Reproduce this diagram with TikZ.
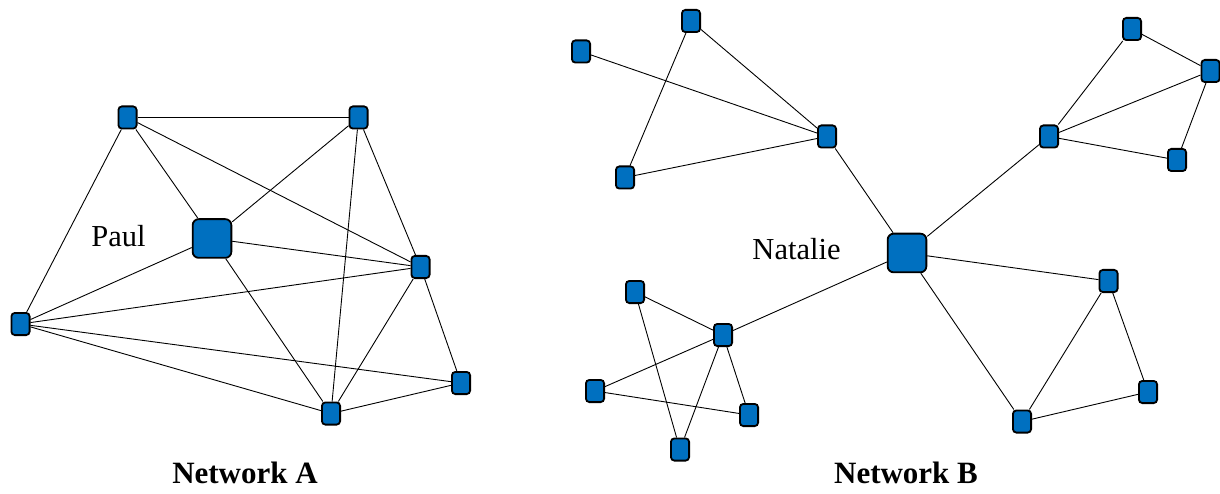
\documentclass[tikz,border=0pt]{standalone}
\usepackage{fontspec}
\setmainfont{Liberation Serif}
\definecolor{nodeblue}{HTML}{0070C0}
\begin{document}
\begin{tikzpicture}[x=1pt,y=-1pt,
  member/.style={draw=black,line width=1.8pt,fill=nodeblue,rounded corners=3.5pt,
    minimum width=18.2pt,minimum height=22.2pt,inner sep=0pt},
  hub/.style={draw=black,line width=1.8pt,fill=nodeblue,rounded corners=6pt,
    minimum size=38.7pt,inner sep=0pt},
  tie/.style={draw=black,line width=0.9pt},
  personlabel/.style={font=\fontsize{30.5}{30.5}\selectfont,anchor=base},
  netcaption/.style={font=\fontsize{31}{31}\selectfont\bfseries,anchor=base}]
\useasboundingbox (0,0) rectangle (1220,494);

% ---- Network A ----
\node[hub] (paul) at (212,238.5) {};
\node[member] (a1) at (127.5,117.5) {};
\node[member] (a2) at (358.5,117.5) {};
\node[member] (a3) at (420.5,267) {};
\node[member] (a4) at (20.5,324) {};
\node[member] (a5) at (461,383) {};
\node[member] (a6) at (331,413.5) {};
\node[personlabel] (paullabel) at (118.5,247) {Paul};
\node[netcaption] (capA) at (245,483) {Network A};

\draw[tie] (a1) -- (a2);
\draw[tie] (a1) -- (a4);
\draw[tie] (a1) -- (paul);
\draw[tie] (a1) -- (a3);
\draw[tie] (a2) -- (paul);
\draw[tie] (a2) -- (a3);
\draw[tie] (a2) -- (a6);
\draw[tie] (paul) -- (a4);
\draw[tie] (paul) -- (a3);
\draw[tie] (paul) -- (a6);
\draw[tie] (a4) -- (a3);
\draw[tie] (a4) -- (a5);
\draw[tie] (a4) -- (a6);
\draw[tie] (a3) -- (a6);
\draw[tie] (a3) -- (a5);
\draw[tie] (a6) -- (a5);

% ---- Network B ----
\node[hub] (nat) at (907,253) {};
\node[member] (b1) at (691,21) {};
\node[member] (b2) at (581,51.5) {};
\node[member] (b3) at (827,136.5) {};
\node[member] (b4) at (625,177.5) {};
\node[member] (b5) at (1132,29) {};
\node[member] (b6) at (1210.5,71) {};
\node[member] (b7) at (1049,136.5) {};
\node[member] (b8) at (1177,160) {};
\node[member] (b9) at (1108.5,281) {};
\node[member] (b10) at (1148,392) {};
\node[member] (b11) at (1022,421.5) {};
\node[member] (c1) at (635,292) {};
\node[member] (c2) at (723,335) {};
\node[member] (c3) at (595,391) {};
\node[member] (c4) at (749,415) {};
\node[member] (c5) at (680,449.5) {};
\node[personlabel] (natlabel) at (796.5,259) {Natalie};
\node[netcaption] (capB) at (906,483) {Network B};

\draw[tie] (b1) -- (b3);
\draw[tie] (b1) -- (b4);
\draw[tie] (b2) -- (b3);
\draw[tie] (b4) -- (b3);
\draw[tie] (b3) -- (nat);
\draw[tie] (nat) -- (b7);
\draw[tie] (b7) -- (b5);
\draw[tie] (b7) -- (b6);
\draw[tie] (b7) -- (b8);
\draw[tie] (b5) -- (b6);
\draw[tie] (b6) -- (b8);
\draw[tie] (nat) -- (b9);
\draw[tie] (nat) -- (b11);
\draw[tie] (b9) -- (b11);
\draw[tie] (b9) -- (b10);
\draw[tie] (b11) -- (b10);
\draw[tie] (nat) -- (c2);
\draw[tie] (c2) -- (c1);
\draw[tie] (c2) -- (c3);
\draw[tie] (c2) -- (c4);
\draw[tie] (c2) -- (c5);
\draw[tie] (c1) -- (c5);
\draw[tie] (c3) -- (c4);
\end{tikzpicture}
\end{document}
